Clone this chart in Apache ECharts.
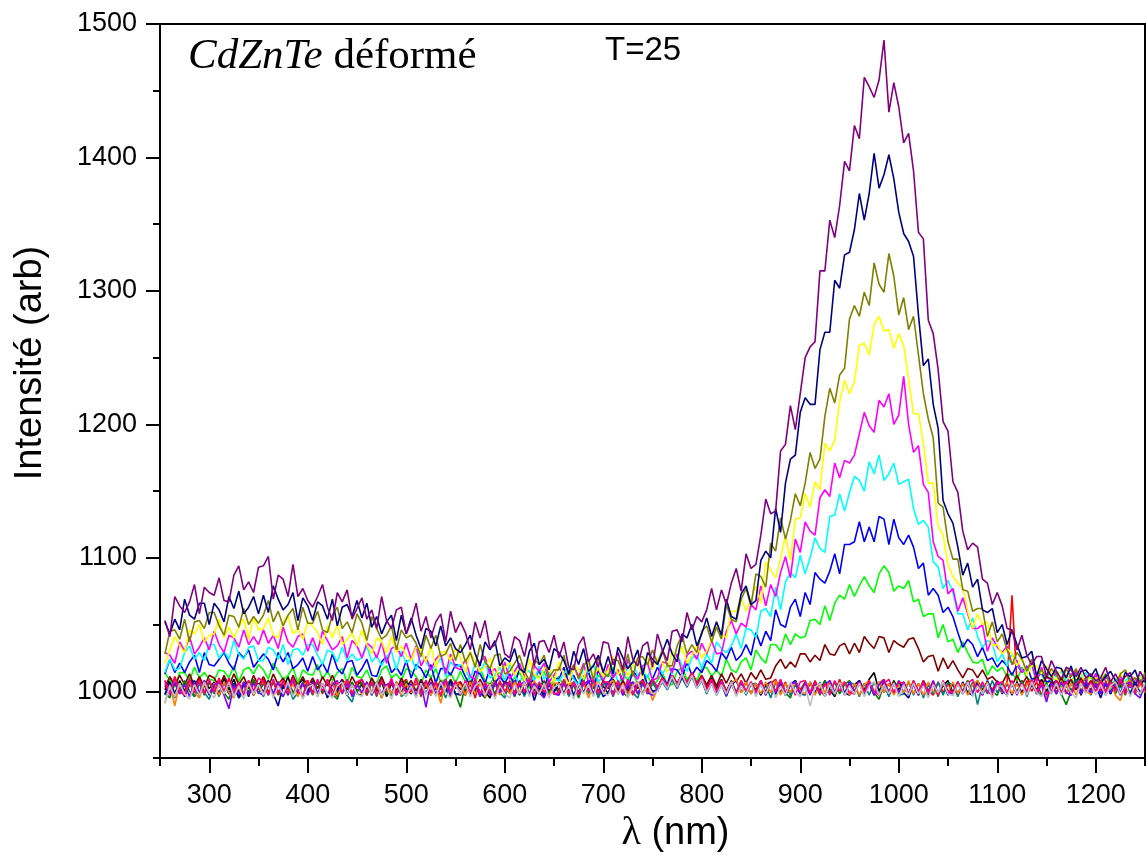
<!DOCTYPE html>
<html>
<head>
<meta charset="utf-8">
<script src="https://cdn.jsdelivr.net/npm/echarts@6/dist/echarts.min.js"></script>
<style>
html,body{margin:0;padding:0;background:#fff}
#chart{width:1146px;height:864px}
</style>
</head>
<body>
<div id="chart"></div>
<script>
// Wavelength grid (nm)
const wavelengths = [
255,260,265,270,275,280,285,290,295,300,
305,310,315,320,325,330,335,340,345,350,
355,360,365,370,375,380,385,390,395,400,
405,410,415,420,425,430,435,440,445,450,
455,460,465,470,475,480,485,490,495,500,
505,510,515,520,525,530,535,540,545,550,
555,560,565,570,575,580,585,590,595,600,
605,610,615,620,625,630,635,640,645,650,
655,660,665,670,675,680,685,690,695,700,
705,710,715,720,725,730,735,740,745,750,
755,760,765,770,775,780,785,790,795,800,
805,810,815,820,825,830,835,840,845,850,
855,860,865,870,875,880,885,890,895,900,
905,910,915,920,925,930,935,940,945,950,
955,960,965,970,975,980,985,990,995,1000,
1005,1010,1015,1020,1025,1030,1035,1040,1045,1050,
1055,1060,1065,1070,1075,1080,1085,1090,1095,1100,
1105,1110,1115,1120,1125,1130,1135,1140,1145,1150,
1155,1160,1165,1170,1175,1180,1185,1190,1195,1200,
1205,1210,1215,1220,1225,1230,1235,1240,1245,1250];

const xMajorTicks = [300,400,500,600,700,800,900,1000,1100,1200];
const xMinorTicks = [250,350,450,550,650,750,850,950,1050,1150,1250];
const yMajorTicks = [1000,1100,1200,1300,1400,1500];
const yMinorTicks = [950,1050,1150,1250,1350,1450];

// Intensity spectra (arb), one per acquisition
const specBlack = [
1001,1009,998,1008,1000,1010,1003,997,1008,1002,
1007,998,1010,1001,1009,999,1006,996,1008,1003,
999,1008,997,1007,1002,1011,998,1005,1009,1000,
1008,998,1006,995,1007,1001,1009,997,1006,1000,
1005,997,1008,1000,1007,996,1006,999,1009,1002,
998,1007,1000,1008,997,1006,1002,1009,996,1005,
1002,997,1007,999,1008,1000,995,1006,998,1007,
999,1008,997,1006,998,1007,1002,996,1006,1000,
1006,998,1007,997,1004,1008,999,1006,996,1004,
998,1006,1000,1008,997,1004,1007,998,1006,1000,
1001,1008,1003,1010,1004,1011,1006,1012,1005,1009,
1003,1010,1002,1009,1000,1008,999,1007,998,1006,
1001,1008,999,1007,998,1006,997,1005,1008,1000,
1006,998,1007,1000,1008,1001,996,1006,998,1007,
999,1008,1001,1009,1014,1000,1007,999,1008,1001,
1007,998,1006,997,1008,1000,1007,998,1004,1008,
999,1007,998,1006,997,1008,1001,1007,998,1006,
1001,997,1007,999,1008,998,1006,1001,1009,1000,
1007,998,1006,1008,1000,1007,997,1006,1001,1008,
999,1007,998,1006,1008,1001,1007,998,1006,1001];

const specRed = [
1008,999,1011,1002,998,1009,1000,1010,999,1007,
1000,1010,998,1008,1002,996,1007,999,1009,1001,
1009,999,1007,997,1008,1001,1010,998,1006,1008,
999,1007,998,1009,1001,996,1006,1008,998,1007,
1006,997,1008,1001,1010,999,1007,997,1005,1009,
999,1008,996,1006,998,1007,1001,1009,997,1006,
1007,998,1006,995,1008,999,1006,997,1007,1000,
1001,1008,998,1007,997,1006,999,1008,996,1005,
998,1007,999,1006,996,1008,1001,998,1007,999,
1006,998,1008,999,1007,997,1005,1008,998,1006,
1003,1010,1004,1012,1005,1013,1006,1014,1005,1011,
1002,1009,1000,1008,999,1007,998,1008,1000,1007,
999,1008,998,1006,1009,999,1007,997,1006,1001,
1007,998,1008,1000,997,1006,999,1009,998,1006,
1000,1008,999,1007,998,1006,1009,999,1007,998,
1006,998,1007,999,1008,1001,997,1007,999,1006,
998,1007,1000,1008,999,1006,997,1007,1001,1008,
999,1007,1072,1006,998,1008,1000,1007,997,1006,
1008,999,1007,998,1006,1009,1000,1007,999,1008,
1000,1008,999,1007,998,1006,1008,1000,1007,999];

const specGreen = [
1014,1008,1003,1014,1014,1008,1018,1010,1014,1009,
1008,1016,1015,1010,1019,1007,1016,1018,1013,1020,
1016,1009,1021,1015,1009,1012,1018,1006,1016,1013,
1012,1020,1009,1015,1008,1014,1017,1006,1018,1011,
1010,1016,1007,1006,1016,1019,1010,1013,1008,1017,
1015,1011,1005,1016,1010,1017,1007,1009,1014,1006,
1015,1007,1011,1005,1017,1008,1005,1012,1014,1004,
1005,1010,1014,1007,1002,1013,1010,1015,1004,1008,
1011,1004,1016,1010,1005,1008,1014,1002,1012,1009,
1013,1009,1003,1014,1008,1015,1005,1007,1012,1004,
1008,1014,1005,1005,1015,1018,1009,1013,1008,1017,
1018,1011,1016,1011,1024,1016,1014,1022,1025,1016,
1031,1025,1021,1035,1035,1030,1043,1035,1043,1040,
1041,1053,1054,1050,1064,1053,1066,1072,1069,1080,
1071,1079,1086,1079,1074,1088,1094,1089,1075,1079,
1077,1083,1067,1069,1056,1058,1058,1040,1050,1037,
1039,1029,1037,1029,1022,1021,1024,1012,1019,1015,
1018,1011,1014,1008,1018,1010,1008,1013,1013,1005,
1011,1008,1003,1012,1007,1013,1004,1006,1011,1004,
1012,1006,1001,1009,1009,1003,1011,1004,1008,1004];

const specBlue = [
1013,1024,1014,1021,1014,1022,1027,1014,1029,1020,
1019,1024,1029,1021,1016,1029,1025,1031,1018,1023,
1028,1024,1016,1029,1022,1029,1017,1020,1025,1015,
1026,1016,1021,1014,1028,1017,1013,1022,1023,1012,
1017,1024,1012,1011,1022,1026,1014,1018,1012,1023,
1010,1020,1017,1010,1020,1006,1017,1017,1012,1020,
1019,1011,1004,1015,1013,1006,1017,1006,1011,1006,
1013,1004,1018,1011,1006,1009,1016,1002,1014,1010,
1009,1018,1006,1012,1004,1011,1015,1002,1016,1007,
1006,1011,1016,1007,1002,1015,1011,1017,1004,1009,
1018,1011,1005,1017,1016,1010,1022,1012,1018,1014,
1023,1020,1015,1029,1024,1033,1023,1027,1035,1027,
1044,1034,1045,1038,1061,1050,1048,1063,1069,1056,
1074,1065,1089,1084,1081,1090,1103,1088,1110,1110,
1112,1127,1112,1123,1112,1131,1129,1110,1129,1115,
1110,1117,1108,1092,1096,1072,1077,1072,1059,1063,
1056,1044,1033,1039,1035,1026,1033,1023,1025,1018,
1023,1019,1012,1020,1014,1019,1009,1010,1014,1007,
1008,1014,1006,1004,1012,1014,1007,1009,1004,1013,
1011,1004,1008,1002,1013,1005,1003,1009,1010,1002];

const specCyan = [
1014,1024,1016,1017,1029,1034,1024,1029,1023,1035,
1035,1025,1030,1024,1038,1028,1024,1033,1034,1023,
1023,1033,1031,1024,1035,1020,1031,1032,1027,1035,
1035,1027,1020,1031,1029,1022,1033,1023,1028,1023,
1025,1034,1022,1027,1019,1026,1030,1016,1030,1021,
1025,1016,1029,1022,1016,1019,1025,1011,1022,1018,
1020,1016,1009,1021,1014,1022,1010,1012,1018,1008,
1020,1012,1005,1017,1015,1008,1019,1009,1014,1009,
1008,1013,1018,1009,1004,1018,1014,1020,1007,1012,
1011,1018,1007,1007,1018,1022,1011,1016,1010,1021,
1022,1013,1019,1013,1028,1019,1015,1025,1027,1017,
1028,1021,1037,1032,1029,1034,1043,1032,1047,1046,
1040,1060,1062,1056,1078,1061,1082,1089,1085,1102,
1088,1100,1115,1107,1104,1131,1132,1148,1135,1149,
1161,1158,1150,1172,1163,1177,1158,1163,1171,1155,
1157,1159,1137,1125,1128,1123,1097,1093,1077,1083,
1074,1058,1058,1046,1055,1041,1033,1038,1036,1022,
1028,1019,1028,1021,1015,1015,1019,1008,1016,1012,
1008,1012,1015,1008,1004,1013,1010,1014,1004,1007,
1006,1013,1004,1009,1002,1008,1011,1001,1012,1005];

const specMagenta = [
1029,1027,1021,1037,1030,1041,1028,1033,1040,1031,
1045,1035,1029,1042,1040,1033,1046,1035,1041,1035,
1046,1036,1042,1032,1048,1037,1033,1041,1043,1030,
1040,1030,1045,1038,1031,1034,1041,1025,1038,1034,
1025,1036,1033,1025,1037,1021,1032,1034,1026,1036,
1024,1034,1019,1026,1016,1024,1028,1013,1028,1018,
1016,1024,1011,1009,1022,1026,1013,1017,1009,1022,
1009,1015,1021,1011,1004,1019,1015,1021,1007,1012,
1018,1013,1005,1019,1011,1021,1007,1011,1017,1007,
1020,1010,1016,1008,1024,1013,1009,1019,1021,1008,
1010,1022,1021,1014,1028,1014,1027,1030,1024,1036,
1028,1038,1028,1029,1045,1053,1043,1051,1048,1065,
1061,1079,1064,1080,1071,1089,1101,1085,1114,1104,
1127,1120,1117,1145,1151,1146,1171,1160,1173,1171,
1177,1193,1209,1199,1194,1218,1213,1223,1200,1207,
1236,1200,1179,1184,1155,1149,1112,1101,1098,1073,
1077,1060,1070,1058,1047,1047,1050,1030,1040,1033,
1029,1034,1020,1023,1014,1018,1020,1007,1018,1010,
1009,1015,1007,1006,1013,1015,1007,1010,1004,1013,
1002,1010,1009,1003,1012,1001,1009,1010,1006,1012];

const specYellow = [
1021,1031,1041,1034,1029,1046,1043,1050,1037,1042,
1043,1054,1040,1048,1040,1048,1054,1039,1056,1046,
1047,1055,1042,1040,1052,1057,1043,1047,1039,1052,
1049,1044,1035,1049,1040,1050,1035,1039,1044,1034,
1046,1035,1028,1040,1037,1029,1041,1029,1034,1027,
1023,1033,1031,1022,1034,1018,1029,1030,1023,1032,
1025,1014,1030,1022,1015,1018,1025,1008,1022,1017,
1022,1012,1018,1008,1024,1013,1009,1017,1019,1006,
1022,1012,1005,1019,1017,1009,1022,1012,1017,1011,
1016,1026,1012,1020,1011,1019,1024,1010,1026,1016,
1025,1021,1014,1030,1023,1034,1021,1027,1034,1025,
1030,1039,1049,1043,1040,1060,1060,1070,1060,1069,
1079,1066,1097,1091,1085,1099,1117,1098,1129,1130,
1148,1138,1157,1151,1186,1180,1188,1217,1233,1223,
1232,1259,1261,1252,1275,1281,1270,1271,1257,1268,
1259,1234,1208,1208,1186,1156,1156,1124,1117,1095,
1086,1081,1078,1060,1047,1058,1050,1052,1034,1035,
1028,1032,1028,1019,1026,1012,1019,1019,1013,1019,
1014,1007,1017,1012,1008,1010,1014,1003,1012,1009,
1012,1005,1009,1003,1014,1006,1004,1010,1011,1003];

const specOlive = [
1028,1045,1046,1039,1054,1037,1052,1053,1047,1059,
1059,1049,1042,1057,1056,1048,1062,1050,1056,1051,
1057,1068,1052,1060,1049,1057,1062,1046,1063,1051,
1051,1060,1046,1044,1057,1063,1047,1052,1044,1058,
1051,1038,1056,1047,1039,1042,1049,1031,1046,1040,
1042,1036,1026,1042,1032,1042,1026,1028,1036,1023,
1035,1022,1029,1018,1035,1022,1017,1027,1028,1013,
1015,1021,1027,1015,1008,1024,1020,1027,1010,1016,
1016,1027,1012,1020,1009,1019,1024,1008,1026,1014,
1011,1024,1023,1014,1028,1011,1025,1026,1020,1031,
1021,1031,1019,1019,1034,1042,1028,1035,1029,1045,
1049,1037,1048,1039,1065,1054,1052,1069,1077,1064,
1088,1086,1078,1111,1105,1130,1114,1128,1148,1139,
1156,1179,1167,1174,1206,1227,1216,1237,1242,1279,
1289,1281,1299,1289,1321,1305,1299,1328,1311,1282,
1295,1271,1281,1252,1223,1204,1190,1141,1138,1112,
1099,1099,1076,1075,1060,1062,1062,1041,1052,1037,
1043,1031,1020,1029,1024,1015,1024,1012,1016,1010,
1017,1012,1006,1017,1011,1017,1007,1009,1013,1005,
1007,1013,1004,1003,1013,1016,1007,1010,1005,1014];

const specNavy = [
1052,1043,1054,1046,1069,1057,1054,1066,1066,1050,
1066,1061,1052,1071,1062,1075,1058,1063,1071,1058,
1072,1059,1079,1069,1061,1065,1074,1053,1070,1064,
1053,1067,1064,1054,1069,1049,1063,1065,1056,1068,
1055,1066,1048,1056,1043,1052,1057,1038,1057,1043,
1055,1042,1032,1047,1045,1034,1049,1034,1040,1032,
1029,1035,1042,1028,1019,1037,1031,1038,1019,1025,
1022,1032,1017,1014,1030,1036,1020,1024,1016,1032,
1029,1023,1013,1030,1020,1032,1015,1019,1027,1014,
1026,1013,1033,1025,1017,1022,1031,1012,1029,1024,
1020,1029,1039,1028,1022,1043,1040,1050,1034,1043,
1055,1041,1052,1042,1069,1056,1054,1073,1079,1065,
1068,1098,1105,1100,1137,1119,1156,1174,1177,1209,
1220,1215,1215,1256,1269,1269,1308,1302,1327,1329,
1346,1373,1353,1373,1403,1377,1387,1402,1384,1359,
1343,1337,1326,1282,1244,1249,1215,1197,1143,1133,
1126,1108,1087,1096,1078,1084,1061,1059,1062,1044,
1050,1035,1046,1035,1025,1026,1030,1011,1023,1017,
1011,1018,1017,1010,1019,1006,1015,1016,1011,1017,
1006,1011,1015,1008,1003,1014,1011,1016,1005,1009];

const specPurple = [
1053,1041,1071,1064,1059,1067,1080,1058,1078,1074,
1072,1085,1068,1067,1087,1094,1076,1082,1074,1093,
1094,1101,1069,1087,1084,1071,1095,1071,1077,1068,
1063,1071,1080,1063,1053,1074,1067,1076,1054,1062,
1070,1054,1061,1047,1071,1053,1047,1061,1063,1043,
1052,1066,1045,1056,1040,1052,1058,1037,1060,1044,
1052,1044,1031,1052,1040,1053,1032,1035,1045,1028,
1025,1041,1038,1026,1044,1019,1037,1038,1029,1042,
1025,1037,1018,1016,1035,1041,1022,1028,1018,1037,
1036,1020,1029,1016,1041,1024,1019,1034,1037,1018,
1043,1031,1023,1045,1046,1037,1059,1046,1056,1052,
1061,1077,1061,1076,1065,1081,1092,1075,1103,1092,
1095,1117,1144,1133,1135,1180,1185,1214,1196,1223,
1250,1258,1262,1315,1315,1353,1340,1364,1397,1390,
1424,1414,1460,1453,1445,1458,1488,1434,1456,1438,
1411,1418,1390,1344,1339,1278,1268,1241,1202,1195,
1157,1149,1120,1106,1111,1108,1084,1081,1065,1074,
1064,1047,1046,1031,1042,1027,1020,1026,1026,1011,
1023,1015,1009,1018,1016,1011,1018,1010,1013,1008,
1010,1018,1007,1013,1006,1011,1014,1003,1015,1008];

const specWine = [
1003,1011,1004,1012,1005,1013,1004,1011,1003,1012,
1010,1003,1012,1004,1013,1005,1011,1002,1012,1004,
1011,1003,1013,1005,1010,1002,1012,1004,1011,1003,
1010,1002,1011,1004,1012,1003,1009,1001,1011,1004,
1009,1001,1010,1003,1011,1002,1008,1000,1010,1003,
1008,1000,1009,1002,1010,1001,1008,999,1009,1002,
1007,1000,1008,1001,1009,1002,999,1008,1001,1007,
1006,999,1008,1000,1007,1001,998,1007,1000,1006,
1001,1008,1000,1007,999,1008,1001,1006,1000,1008,
1002,1009,1001,1008,1000,1007,1002,1009,1001,1008,
1003,1010,1004,1012,1006,1013,1007,1014,1006,1012,
1005,1012,1004,1013,1006,1014,1007,1013,1006,1014,
1009,1016,1009,1010,1019,1024,1017,1022,1018,1028,
1028,1022,1027,1023,1035,1028,1027,1034,1036,1028,
1036,1029,1041,1036,1032,1041,1040,1029,1038,1035,
1033,1039,1040,1032,1022,1026,1027,1015,1025,1017,
1023,1016,1010,1017,1016,1010,1016,1009,1011,1007,
1006,1013,1004,1012,1005,1011,1003,1012,1004,1011,
1009,1002,1010,1003,1009,1001,1010,1002,1008,1003,
1007,1000,1008,1002,1007,999,1008,1001,1007,1002];

const specDarkGreen = [
999,995,1007,998,1008,1000,996,1006,997,1007,
998,1008,999,994,1006,997,1007,999,1009,998,
1006,997,1008,999,996,1007,998,1006,995,1005,
997,1007,999,1008,998,994,1006,997,1007,999,
1007,998,1006,996,1008,999,997,1006,998,1008,
999,1008,997,1006,998,1007,996,1005,1008,998,
988,1005,997,1007,999,995,1006,998,1007,997,
1005,996,1006,998,1008,997,1005,1007,998,1006,
998,1007,997,1005,995,1006,999,1008,997,1005,
1006,997,1007,999,996,1006,998,1007,1000,997,
1002,1009,1003,1011,1004,1012,1005,1013,1004,1010,
1000,1008,998,1007,999,1006,997,1007,998,1006,
999,1007,997,1006,998,1008,999,995,1006,998,
1007,998,1006,997,1008,999,1007,998,1005,1008,
998,1006,997,1007,999,994,1005,997,1007,999,
1006,997,1008,999,1007,998,1006,996,1007,999,
998,1007,999,1008,997,1006,998,1007,1000,997,
1007,998,1006,999,1008,998,1007,1000,997,1006,
999,1008,998,990,1000,1009,999,1007,998,1006,
1008,999,1007,998,1006,997,1007,1000,1008,999];

const specTeal = [
997,1006,995,1005,998,1007,996,1006,999,994,
1005,996,1007,998,1006,995,999,1008,997,1005,
996,1006,998,1007,997,1005,994,999,1007,998,
1006,997,1005,996,1007,998,1006,997,992,1005,
998,1007,997,1006,995,1005,998,1007,996,999,
1005,996,1006,998,1007,997,1005,995,1006,998,
997,1006,998,1007,996,1005,997,1006,999,995,
1006,997,1005,996,1007,998,1006,997,1005,998,
998,1007,996,1005,997,1006,998,1007,995,1005,
1005,996,1006,997,1007,999,995,1006,998,1007,
1000,1007,1001,1009,1002,1010,1003,1011,1002,1008,
998,1006,997,1005,996,1007,998,1006,997,1005,
1006,997,1005,995,1007,998,1006,997,1005,998,
997,1006,998,1007,996,1005,997,1006,998,1007,
1005,996,1006,997,1007,998,1005,996,1006,997,
998,1007,997,1006,995,1005,998,1007,997,1006,
1005,996,1006,998,1007,990,1005,998,1008,999,
1006,997,1005,998,1007,996,1006,999,997,1005,
998,1007,997,1006,999,1008,998,1006,997,1005,
1006,997,1005,1007,998,1006,999,1007,997,1005];

const specRoyal = [
998,1007,997,1006,996,1005,1008,998,1006,997,
1005,997,1007,998,1006,995,1005,1007,997,1006,
999,1008,998,989,1005,997,1007,999,1006,998,
1007,998,1005,996,1006,999,1008,997,1005,998,
997,1006,999,1007,996,1005,998,1007,999,1006,
1005,996,1007,998,1006,997,1005,999,1008,998,
998,1007,997,1006,999,996,1005,1007,998,1006,
1005,997,1006,998,1007,993,1005,997,1006,999,
1007,998,1005,997,1006,999,1008,998,1005,996,
999,1007,998,1006,997,1005,1007,998,1006,999,
1001,1008,1002,1010,1003,1011,1004,1012,1003,1009,
999,1007,998,1006,997,1005,1008,999,1007,998,
1006,997,1005,1007,998,1006,997,1005,1008,999,
998,1007,999,1006,996,1005,998,1007,999,997,
1005,1008,998,1006,997,1007,999,1006,998,1008,
999,995,1006,998,1007,997,1005,998,1006,997,
1006,998,1007,999,997,1006,998,1008,999,1007,
998,1006,997,1007,999,1005,1008,998,1006,997,
1005,1008,998,1006,997,1007,999,1006,998,1005,
995,1006,998,1007,999,1006,997,1007,999,1005];

const specOrange = [
991,1005,989,1006,997,1007,999,995,1006,998,
1006,997,1007,999,995,1006,998,1008,997,1005,
998,1007,997,1005,1008,998,1006,996,1005,1007,
1005,996,1006,998,1007,997,1005,1008,998,1006,
997,1007,999,1006,995,1005,998,1007,997,1006,
999,1008,998,1006,997,1005,991,1006,998,1007,
1005,997,1007,998,1006,996,1005,1007,997,1006,
998,1007,999,1006,997,1008,998,1005,996,1006,
1006,997,1005,1007,998,1006,995,1005,1007,998,
1005,1008,998,1006,997,1005,1007,998,1006,993,
1002,1009,1003,1011,1004,1012,1005,1014,1004,1010,
1000,1008,999,1007,998,1006,1009,999,1007,998,
1006,998,1007,999,1008,997,1006,999,1007,1000,
998,1007,997,1006,999,1008,998,1005,1007,997,
1006,997,1005,1008,998,1007,999,1006,997,1005,
999,1008,998,1006,997,1007,1000,998,1006,999,
1007,998,1006,997,1005,1008,999,1007,998,1006,
999,1007,998,1006,997,1005,1008,999,1007,994,
1005,998,1008,999,1006,997,1007,1000,998,1006,
1007,999,1006,997,993,1005,1008,998,1006,999];

const specViolet = [
1006,997,1007,998,1005,996,1006,999,1008,998,
1005,1007,997,987,1005,998,1007,997,1006,999,
997,1006,998,1007,996,1005,1008,999,1006,997,
1007,998,1006,997,1005,1008,998,1006,996,1005,
999,1007,997,1006,998,1005,1007,997,1006,999,
1005,997,1006,988,1007,998,1005,1008,997,1006,
998,1007,999,1006,996,1005,997,1007,999,1006,
1006,997,1005,1007,998,1006,999,995,1006,998,
997,1006,998,1007,999,1005,1008,997,1006,999,
1007,998,1006,997,1005,1007,998,1006,999,997,
1002,1009,1003,1010,1004,1012,1005,1013,1004,1010,
1000,1008,999,1007,997,1006,998,1007,999,1006,
998,1006,997,1007,999,1008,998,1005,1007,998,
1006,997,1007,998,1005,1008,999,1006,997,1007,
999,1007,998,1006,997,1005,1008,998,1006,999,
1007,998,1005,997,1006,999,1008,998,1007,1000,
997,1006,999,1007,998,1005,997,1006,999,1007,
1000,998,1007,997,1006,999,1007,998,1005,992,
1006,998,1007,999,997,1006,998,1008,999,1006,
998,1007,999,1006,997,1005,1007,998,995,1005];

const specPink = [
1008,998,1010,1000,997,1009,999,1008,998,1009,
999,1009,1000,1010,998,1007,997,1008,1000,1010,
1007,997,1009,999,1008,998,1010,1000,997,1008,
998,1009,1000,1008,996,1007,999,1009,998,1007,
1009,999,1007,997,1008,1000,1010,998,1007,999,
1000,1010,998,1008,999,1007,997,1009,1000,1008,
997,1008,999,1009,998,1007,1000,996,1008,999,
1008,998,1007,999,1009,997,1007,999,1008,998,
999,1009,998,1007,997,1008,1000,1009,998,1007,
1007,997,1008,999,1009,998,1006,1008,999,1009,
1003,1010,1004,1012,1005,1013,1006,1014,1005,1011,
1001,1009,1000,1008,999,1007,998,1008,1000,1007,
999,1008,998,1007,1000,1009,999,1006,997,1007,
1008,999,1007,998,1006,997,1008,1000,1007,999,
998,1007,999,1008,1000,997,1006,1009,999,1007,
1006,998,1008,1000,1007,998,1006,997,1008,1000,
999,1007,998,1006,1009,999,1007,1000,997,1006,
1007,999,1008,998,1006,1000,1009,999,1007,998,
1000,1008,999,1007,998,1006,1008,999,1007,1000,
1008,999,1007,1000,1009,998,1006,999,1008,1000];

const specLightGray = [
991,1004,996,1006,998,994,1005,997,1007,999,
995,1005,998,1007,996,1004,994,1006,998,1005,
997,1006,995,1004,998,1007,996,1005,994,1003,
1005,996,1006,998,995,1004,1007,997,1005,998,
996,1005,998,1007,997,1004,994,1006,999,996,
1004,995,1006,998,1005,996,1007,999,995,1005,
998,1006,996,1004,1007,997,1005,994,1004,998,
995,1005,998,1007,996,1004,998,1006,995,1003,
1005,997,1004,994,1006,998,1005,996,1007,999,
997,1006,998,1005,995,1004,1007,997,1005,998,
1000,1008,1002,1011,1003,1013,1004,1012,1002,1009,
999,1006,997,1005,998,1007,996,1004,998,1006,
996,1005,998,1006,995,1004,997,1007,999,996,
1004,989,1003,1006,996,1005,998,1007,997,1004,
998,1006,996,1004,1007,997,1005,998,1006,996,
1005,997,1006,998,1004,995,1005,999,1007,998,
997,1005,998,1007,996,1004,998,1006,995,1004,
1004,996,1006,998,1005,997,1007,999,996,1005,
998,1006,997,1005,999,995,1006,998,1005,997,
1005,997,1004,1007,998,1006,996,1004,998,1006];

// Drawing order: later curves are painted on top
const spectra = [
  ['black', specBlack], ['red', specRed], ['green', specGreen], ['blue', specBlue],
  ['cyan', specCyan], ['magenta', specMagenta], ['yellow', specYellow], ['olive', specOlive],
  ['navy', specNavy], ['purple', specPurple], ['wine', specWine], ['darkGreen', specDarkGreen],
  ['teal', specTeal], ['royal', specRoyal], ['orange', specOrange], ['violet', specViolet],
  ['pink', specPink], ['lightGray', specLightGray]
];

const lineColors = {
  black:'#000000', red:'#FF0000', green:'#00FF00', blue:'#0000FF', cyan:'#00FFFF',
  magenta:'#FF00FF', yellow:'#FFFF00', olive:'#808000', navy:'#000080', purple:'#800080',
  wine:'#800000', darkGreen:'#008000', teal:'#008080', royal:'#0000A0', orange:'#FF8000',
  violet:'#8000FF', pink:'#FF0080', lightGray:'#C0C0C0'
};

const SANS = "'Liberation Sans', Arial, Helvetica, sans-serif";
const SERIF = "'Liberation Serif', 'Times New Roman', serif";
const plainNumber = v => String(v);

const chart = echarts.init(document.getElementById('chart'), null, {renderer: 'canvas'});

const axisBase = {
  type: 'value',
  splitLine: {show: false},
  axisLine: {show: true, onZero: false, lineStyle: {color: '#000', width: 2}},
};

chart.setOption({
  backgroundColor: '#ffffff',
  animation: false,
  grid: {left: 160, top: 24, right: 1, bottom: 106, show: true, borderColor: '#000', borderWidth: 2},
  xAxis: [
    Object.assign({}, axisBase, {
      min: 250, max: 1250, position: 'bottom',
      axisTick: {show: true, inside: false, length: 15, lineStyle: {color: '#000', width: 2}, customValues: xMajorTicks},
      axisLabel: {show: true, margin: 24, color: '#000', fontSize: 27, fontFamily: SANS, formatter: plainNumber, customValues: xMajorTicks},
      name: '{l|λ}{n| (nm)}', nameLocation: 'middle', nameGap: 52,
      nameTextStyle: {
        padding: [0, 0, 0, 46],
        rich: {
          l: {fontFamily: SERIF, fontSize: 40, color: '#000'},
          n: {fontFamily: SANS, fontSize: 38, color: '#000'}
        }
      }
    }),
    Object.assign({}, axisBase, {
      min: 250, max: 1250, position: 'bottom',
      axisLine: {show: false},
      axisTick: {show: true, inside: false, length: 8, lineStyle: {color: '#000', width: 2}, customValues: xMinorTicks},
      axisLabel: {show: false}
    })
  ],
  yAxis: [
    Object.assign({}, axisBase, {
      min: 950, max: 1500, position: 'left',
      axisTick: {show: true, inside: false, length: 14, lineStyle: {color: '#000', width: 2}, customValues: yMajorTicks},
      axisLabel: {show: true, margin: 23, color: '#000', fontSize: 27, fontFamily: SANS, formatter: plainNumber, customValues: yMajorTicks},
      name: 'Intensité (arb)', nameLocation: 'middle', nameGap: 110,
      nameTextStyle: {color: '#000', fontSize: 38, fontFamily: SANS, padding: [0, 0, 0, 56]}
    }),
    Object.assign({}, axisBase, {
      min: 950, max: 1500, position: 'left',
      axisLine: {show: false},
      axisTick: {show: true, inside: false, length: 7, lineStyle: {color: '#000', width: 2}, customValues: yMinorTicks},
      axisLabel: {show: false}
    })
  ],
  graphic: [
    {
      type: 'text', x: 188, y: 57,
      style: {
        text: '{i|CdZnTe}{r| déformé}',
        verticalAlign: 'middle',
        rich: {
          i: {fontFamily: SERIF, fontStyle: 'italic', fontSize: 43, fill: '#000'},
          r: {fontFamily: SERIF, fontSize: 43, fill: '#000'}
        }
      }
    },
    {
      type: 'text', x: 605, y: 51,
      style: {text: 'T=25', fontFamily: SANS, fontSize: 33, fill: '#000', verticalAlign: 'middle'}
    }
  ],
  series: spectra.map(([key, values]) => ({
    name: key,
    type: 'line',
    xAxisIndex: 0,
    yAxisIndex: 0,
    showSymbol: false,
    symbol: 'none',
    silent: true,
    lineStyle: {color: lineColors[key], width: 1.6},
    data: wavelengths.map((w, i) => [w, values[i]])
  }))
});
</script>
</body>
</html>
